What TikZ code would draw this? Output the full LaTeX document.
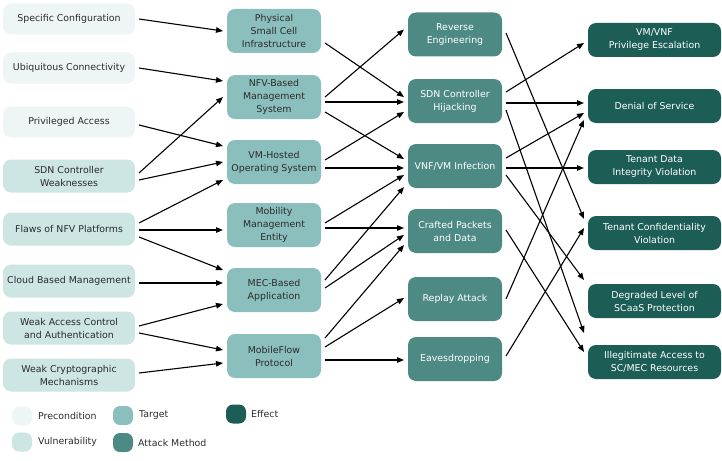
\documentclass[tikz,border=0pt]{standalone}
\usepackage{fontspec}
\setmainfont{DejaVu Sans}
\usetikzlibrary{arrows.meta}
\definecolor{precond}{HTML}{EEF6F5}
\definecolor{vuln}{HTML}{CDE5E3}
\definecolor{target}{HTML}{8BBFBD}
\definecolor{attack}{HTML}{4E8A84}
\definecolor{effect}{HTML}{1C5E56}
\definecolor{ink}{HTML}{2B2B2B}
\tikzset{
  card/.style={fill=#1, rounded corners=8pt, align=center, font=\fontsize{9.4}{13}\selectfont,
               inner sep=2pt, outer xsep=4pt, text=ink},
  card/.default=target,
  pre/.style={card=precond, minimum width=132pt, minimum height=31pt},
  vul/.style={card=vuln, minimum width=132pt, minimum height=33pt},
  tgt/.style={card=target, minimum width=94pt, minimum height=44pt},
  atk/.style={card=attack, minimum width=94pt, minimum height=44pt, text=white},
  eff/.style={card=effect, minimum width=133pt, minimum height=34pt, text=white},
  arr/.style={-{Triangle[length=7pt, width=5.5pt]}, line width=1.1pt, draw=black},
  swatch/.style={fill=#1, rounded corners=7pt, minimum width=20pt, minimum height=19pt, inner sep=0pt},
  key/.style={font=\fontsize{9.4}{11}\selectfont, text=ink, anchor=west, inner sep=0pt},
}

\begin{document}
\begin{tikzpicture}[x=1pt, y=-1pt]
        \useasboundingbox (0,0) rectangle (722,460);
        \node[pre] (spec)  at (69,19)  {Specific Configuration};
        \node[pre] (ubiq)  at (69,68)  {Ubiquitous Connectivity};
        \node[pre] (priv)  at (69,122) {Privileged Access};
        \node[vul] (sdnw)  at (69,176) {SDN Controller\\Weaknesses};
        \node[vul] (nfvf)  at (69,229) {Flaws of NFV Platforms};
        \node[vul] (cloud) at (69,281) {Cloud Based Management};
        \node[vul] (wac)   at (69,328) {Weak Access Control\\and Authentication};
        \node[vul] (wcm)   at (69,375) {Weak Cryptographic\\Mechanisms};

        \node[tgt] (phys)  at (274,31)  {Physical\\Small Cell\\Infrastructure};
        \node[tgt] (nfvm)  at (274,97)  {NFV-Based\\Management\\System};
        \node[tgt] (vmos)  at (274,162) {VM-Hosted\\Operating System};
        \node[tgt] (mme)   at (274,225) {Mobility\\Management\\Entity};
        \node[tgt] (mec)   at (274,290) {MEC-Based\\Application};
        \node[tgt] (mflow) at (274,356) {MobileFlow\\Protocol};

        \node[atk] (rev)    at (455,34.5) {Reverse\\Engineering};
        \node[atk] (hijack) at (455,101)  {SDN Controller\\Hijacking};
        \node[atk] (infect) at (455,166)  {VNF/VM Infection};
        \node[atk] (craft)  at (455,231)  {Crafted Packets\\and Data};
        \node[atk] (replay) at (455,299)  {Replay Attack};
        \node[atk] (eaves)  at (455,359)  {Eavesdropping};

        \node[eff] (privesc) at (654.5,40)  {VM/VNF\\Privilege Escalation};
        \node[eff] (dos)     at (654.5,106) {Denial of Service};
        \node[eff] (integ)   at (654.5,167) {Tenant Data\\Integrity Violation};
        \node[eff] (conf)    at (654.5,233) {Tenant Confidentiality\\Violation};
        \node[eff] (degr)    at (654.5,301) {Degraded Level of\\SCaaS Protection};
        \node[eff] (illeg)   at (654.5,362) {Illegitimate Access to\\SC/MEC Resources};

        \node[swatch=precond] (kpre) at (22,416)    {};
        \node[swatch=vuln]    (kvul) at (22,442)    {};
        \node[swatch=target]  (ktgt) at (123,415.5) {};
        \node[swatch=attack]  (katk) at (123,442.5) {};
        \node[swatch=effect]  (keff) at (236,414)   {};
        \node[key] (lpre) at (38,416)  {Precondition};
        \node[key] (lvul) at (38,442)  {Vulnerability};
        \node[key] (ltgt) at (139,415) {Target};
        \node[key] (latk) at (138,443) {Attack Method};
        \node[key] (leff) at (251,414) {Effect};

        \draw[arr] (spec.east) -- (phys.west);
        \draw[arr] (ubiq.east) -- ([yshift=16pt]nfvm.west);
        \draw[arr] ([yshift=-3pt]priv.east) -- ([yshift=16pt]vmos.west);
        \draw[arr] ([yshift=3pt]sdnw.east) -- (nfvm.west);
        \draw[arr] ([yshift=-4pt]sdnw.east) -- (vmos.west);
        \draw[arr] ([yshift=6pt]nfvf.east) -- ([yshift=-18pt]vmos.west);
        \draw[arr] ([yshift=-1pt]nfvf.east) -- ([yshift=-5pt]mme.west);
        \draw[arr] ([yshift=-8pt]nfvf.east) -- ([yshift=20pt]mec.west);
        \draw[arr] ([yshift=-2pt]cloud.east) -- ([yshift=7pt]mec.west);
        \draw[arr] ([yshift=2pt]wac.east) -- ([yshift=-14pt]mec.west);
        \draw[arr] ([yshift=-5pt]wac.east) -- ([yshift=6pt]mflow.west);
        \draw[arr] ([yshift=2pt]wcm.east) -- ([yshift=-7pt]mflow.west);

        \draw[arr] ([yshift=-12pt]phys.east) -- ([yshift=4pt]hijack.west);
        \draw[arr] (nfvm.east) -- ([yshift=5pt]rev.west);
        \draw[arr] ([yshift=-5pt]nfvm.east) -- ([yshift=-1pt]hijack.west);
        \draw[arr] ([yshift=-15pt]nfvm.east) -- ([yshift=7pt]infect.west);
        \draw[arr] ([yshift=2pt]vmos.east) -- ([yshift=-11pt]hijack.west);
        \draw[arr] ([yshift=-6pt]vmos.east) -- ([yshift=-2pt]infect.west);
        \draw[arr] ([yshift=2pt]mme.east) -- ([yshift=-9pt]infect.west);
        \draw[arr] ([yshift=-3pt]mme.east) -- ([yshift=3pt]craft.west);
        \draw[arr] ([yshift=10pt]mec.east) -- ([yshift=-21pt]infect.west);
        \draw[arr] ([yshift=2pt]mec.east) -- ([yshift=-4pt]craft.west);
        \draw[arr] ([yshift=18pt]mflow.east) -- ([yshift=-14pt]craft.west);
        \draw[arr] ([yshift=9pt]mflow.east) -- ([yshift=1pt]replay.west);
        \draw[arr] ([yshift=-4pt]mflow.east) -- ([yshift=-1pt]eaves.west);

        \draw[arr] ([yshift=1.5pt]rev.east) -- ([yshift=14pt]conf.west);
        \draw[arr] ([yshift=9pt]hijack.east) -- ([yshift=-3pt]privesc.west);
        \draw[arr] ([yshift=-2pt]hijack.east) -- ([yshift=3pt]dos.west);
        \draw[arr] ([yshift=-9pt]hijack.east) -- ([yshift=29pt]illeg.west);
        \draw[arr] ([yshift=8pt]infect.east) -- ([yshift=-7pt]dos.west);
        \draw[arr] ([yshift=-2pt]infect.east) -- ([yshift=-1pt]integ.west);
        \draw[arr] ([yshift=-9pt]infect.east) -- ([yshift=21pt]degr.west);
        \draw[arr] ([yshift=1pt]craft.east) -- ([yshift=10pt]illeg.west);
        \draw[arr] (replay.east) -- ([yshift=-14pt]dos.west);
        \draw[arr] ([yshift=3pt]eaves.east) -- ([yshift=5pt]conf.west);
      \end{tikzpicture}
\end{document}
